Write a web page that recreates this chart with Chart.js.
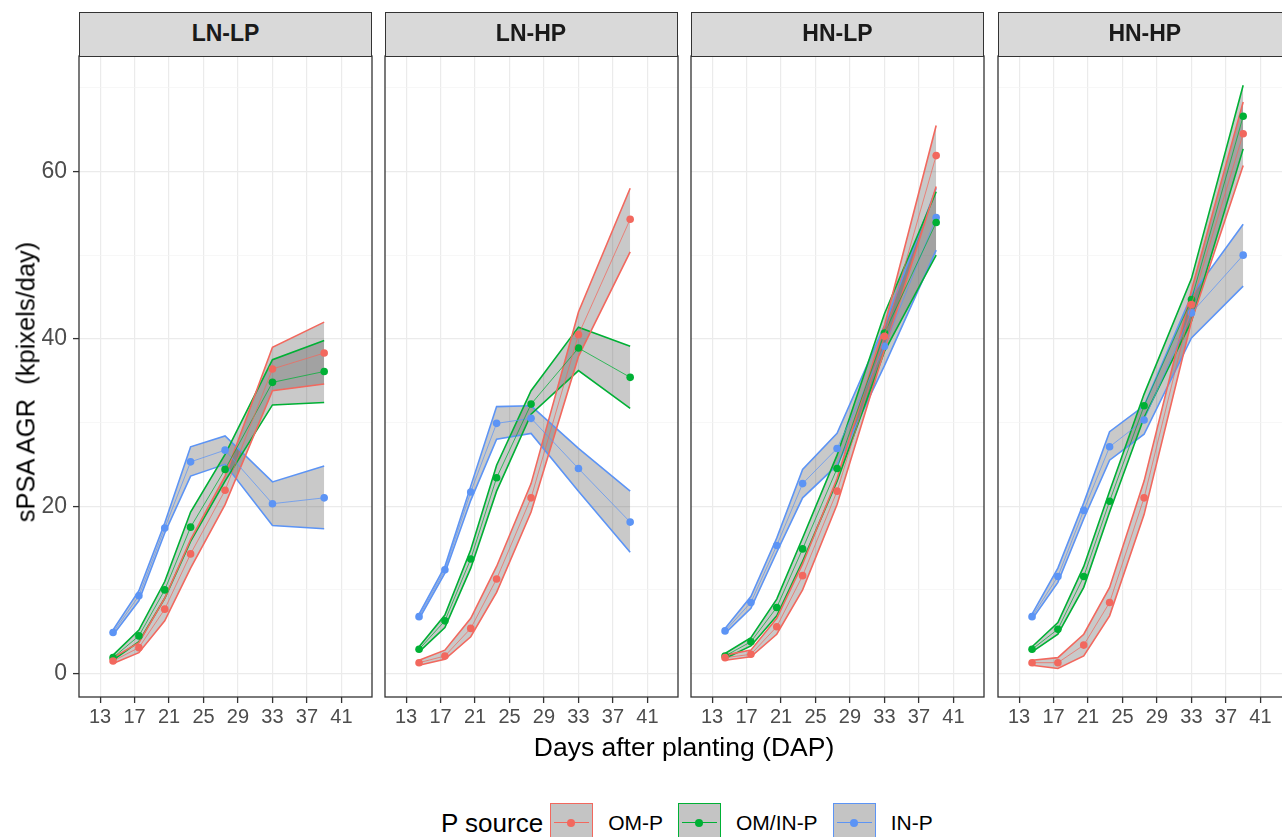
<!DOCTYPE html>
<html>
<head>
<meta charset="utf-8">
<script src="https://cdn.jsdelivr.net/npm/chart.js@4.4.0/dist/chart.umd.min.js"></script>
<style>
  body { margin: 0; background: #fff; font-family: "Liberation Sans", Arial, sans-serif; }
  #wrap { position: relative; width: 1282px; height: 837px; overflow: hidden; background: #fff; }
  canvas.panel { position: absolute; top: 36px; }
  .strip { position: absolute; top: 12px; height: 45px; width: 293px; box-sizing: border-box; border: 1.3px solid #333;
    background: #d9d9d9; font-weight: bold; font-size: 23px; color: #1a1a1a; text-align: center; line-height: 41px; }
  #ytitle { position: absolute; left: 26px; top: 382px; font-size: 25.5px; color: #000; white-space: pre;
    transform: translate(-50%, -50%) rotate(-90deg); }
  #xtitle { position: absolute; left: 684px; top: 747px; font-size: 26.5px; color: #000; transform: translate(-50%, -50%); white-space: nowrap; }
  #legend { position: absolute; left: 441px; top: 803px; height: 40px; display: flex; align-items: center; white-space: nowrap; }
  #legend .ttl { font-size: 26px; margin-right: 7px; }
  #legend .lab { font-size: 21px; margin: 0 15px 0 15px; }
  .key { position: relative; width: 43px; height: 40px; box-sizing: border-box; border: 1.6px solid; background: #c4c4c4; }
  .key i { position: absolute; left: 3px; right: 3px; top: 18px; height: 1.2px; }
  .key b { position: absolute; left: 16px; top: 15px; width: 8px; height: 8px; border-radius: 50%; }
</style>
</head>
<body>
<div id="wrap">
  <canvas class="panel" id="p0"></canvas>
  <canvas class="panel" id="p1"></canvas>
  <canvas class="panel" id="p2"></canvas>
  <canvas class="panel" id="p3"></canvas>
  <div id="ytitle">sPSA AGR  (kpixels/day)</div>
  <div id="xtitle">Days after planting (DAP)</div>
  <div id="legend"></div>
</div>
<script>
const panels = ['LN-LP', 'LN-HP', 'HN-LP', 'HN-HP']
const sources = ['OM-P', 'OM/IN-P', 'IN-P']
const days = [14.5, 17.5, 20.5, 23.5, 27.5, 33, 39]
const xTicks = [13, 17, 21, 25, 29, 33, 37, 41]
const yTicks = [0, 20, 40, 60]
const yMinor = [10, 30, 50, 70]

// LN-LP
const lnlpOM = [1.5, 3.1, 7.7, 14.3, 21.9, 36.4, 38.3]
const lnlpOMlo = [1.2, 2.5, 6.3, 12.6, 20.2, 33.8, 34.6]
const lnlpOMhi = [1.9, 3.7, 9.0, 16.0, 23.6, 39.0, 42.0]
const lnlpMix = [1.9, 4.5, 10.0, 17.5, 24.4, 34.8, 36.1]
const lnlpMixlo = [1.6, 3.8, 9.0, 15.8, 23.0, 32.1, 32.4]
const lnlpMixhi = [2.2, 5.2, 11.0, 19.3, 26.2, 37.5, 39.8]
const lnlpIN = [4.9, 9.3, 17.4, 25.3, 26.7, 20.3, 21.0]
const lnlpINlo = [4.6, 8.7, 16.8, 23.6, 25.0, 17.7, 17.3]
const lnlpINhi = [5.2, 9.9, 18.0, 27.1, 28.4, 22.9, 24.8]

// LN-HP
const lnhpOM = [1.3, 2.1, 5.4, 11.3, 21.0, 40.5, 54.3]
const lnhpOMlo = [1.0, 1.7, 4.4, 9.7, 19.3, 37.9, 50.4]
const lnhpOMhi = [1.6, 2.8, 6.6, 12.8, 22.7, 43.2, 58.0]
const lnhpMix = [2.9, 6.3, 13.7, 23.4, 32.2, 38.9, 35.4]
const lnhpMixlo = [2.6, 5.5, 12.6, 21.8, 31.0, 36.2, 31.7]
const lnhpMixhi = [3.2, 7.0, 14.8, 24.9, 33.8, 41.4, 39.1]
const lnhpIN = [6.8, 12.4, 21.7, 29.9, 30.5, 24.5, 18.1]
const lnhpINlo = [6.5, 12.0, 20.7, 28.0, 28.7, 21.8, 14.5]
const lnhpINhi = [7.1, 12.8, 22.4, 31.9, 32.0, 26.9, 21.8]

// HN-LP
const hnlpOM = [1.9, 2.3, 5.6, 11.7, 21.8, 40.3, 61.9]
const hnlpOMlo = [1.6, 2.0, 4.7, 10.0, 20.2, 38.7, 58.2]
const hnlpOMhi = [2.2, 2.8, 6.6, 13.1, 23.3, 41.6, 65.5]
const hnlpMix = [2.1, 3.8, 7.9, 14.9, 24.5, 40.7, 53.9]
const hnlpMixlo = [1.8, 3.3, 6.9, 13.4, 23.0, 38.5, 50.0]
const hnlpMixhi = [2.4, 4.3, 8.9, 16.2, 26.1, 43.0, 57.6]
const hnlpIN = [5.1, 8.5, 15.3, 22.7, 26.9, 39.1, 54.5]
const hnlpINlo = [4.8, 7.8, 14.5, 21.0, 24.9, 36.8, 50.6]
const hnlpINhi = [5.4, 9.2, 16.2, 24.4, 28.7, 41.6, 58.0]

// HN-HP
const hnhpOM = [1.3, 1.3, 3.4, 8.5, 21.0, 44.1, 64.5]
const hnhpOMlo = [1.0, 0.6, 2.1, 6.9, 19.0, 42.1, 60.7]
const hnhpOMhi = [1.6, 1.9, 4.7, 10.3, 23.0, 45.8, 68.3]
const hnhpMix = [2.9, 5.3, 11.6, 20.6, 32.0, 44.7, 66.6]
const hnhpMixlo = [2.6, 4.7, 10.3, 19.3, 30.6, 42.1, 62.7]
const hnhpMixhi = [3.2, 6.1, 12.8, 21.8, 33.4, 47.2, 70.3]
const hnhpIN = [6.8, 11.6, 19.5, 27.1, 30.3, 43.1, 50.0]
const hnhpINlo = [6.5, 10.9, 18.5, 25.5, 28.6, 40.1, 46.3]
const hnhpINhi = [7.1, 12.6, 20.4, 28.9, 32.0, 45.2, 53.7]

const colors = ['#F2685E', '#00B035', '#5C94F5']
const faded = ['rgba(242,104,94,0.75)', 'rgba(0,176,53,0.75)', 'rgba(92,148,245,0.75)']
const ribbon = 'rgba(60,60,60,0.28)'

const series = [
  [[lnlpOM, lnlpOMlo, lnlpOMhi], [lnlpMix, lnlpMixlo, lnlpMixhi], [lnlpIN, lnlpINlo, lnlpINhi]],
  [[lnhpOM, lnhpOMlo, lnhpOMhi], [lnhpMix, lnhpMixlo, lnhpMixhi], [lnhpIN, lnhpINlo, lnhpINhi]],
  [[hnlpOM, hnlpOMlo, hnlpOMhi], [hnlpMix, hnlpMixlo, hnlpMixhi], [hnlpIN, hnlpINlo, hnlpINhi]],
  [[hnhpOM, hnhpOMlo, hnhpOMhi], [hnhpMix, hnhpMixlo, hnhpMixhi], [hnhpIN, hnhpINlo, hnhpINhi]]
]

// panel left edges (plot area) and widths
const plotLeft = [79, 384.5, 691, 998.3]
const plotW = 293

const FONT = '"Liberation Sans", Arial, sans-serif'

function pts(arr) {
  return arr.map(function (v, i) { return { x: days[i], y: v } })
}

var frame = {
  id: 'frame',
  afterDraw: function (chart) {
    var a = chart.chartArea, c = chart.ctx
    c.save()
    c.strokeStyle = '#333'
    c.lineWidth = 1.3
    c.strokeRect(a.left, a.top, a.right - a.left, a.bottom - a.top)
    c.restore()
  }
}

function makePanel(idx) {
  var yw = idx === 0 ? 79 : 8
  var cv = document.getElementById('p' + idx)
  cv.width = yw + plotW + 4
  cv.height = 701
  cv.style.left = (plotLeft[idx] - yw) + 'px'

  var datasets = []
  series[idx].forEach(function (s, k) {
    datasets.push({ data: pts(s[1]), borderColor: colors[k], borderWidth: 1.6, pointRadius: 0, fill: false, order: 1 })
    datasets.push({ data: pts(s[2]), borderColor: colors[k], borderWidth: 1.6, pointRadius: 0, fill: '-1', backgroundColor: ribbon, order: 1 })
  })
  series[idx].forEach(function (s, k) {
    datasets.push({ data: pts(s[0]), borderColor: faded[k], borderWidth: 1, pointRadius: 3.8,
      pointBackgroundColor: colors[k], pointBorderWidth: 0, fill: false, order: 0 })
  })

  new Chart(cv, {
    type: 'line',
    data: { datasets: datasets },
    options: {
      responsive: false,
      animation: false,
      events: [],
      layout: { padding: { top: 20, right: 4, left: 0, bottom: 0 } },
      plugins: { legend: { display: false }, tooltip: { enabled: false }, filler: { drawTime: 'beforeDatasetsDraw' } },
      elements: { line: { tension: 0 } },
      scales: {
        x: {
          type: 'linear', min: 10.55, max: 44.55,
          afterBuildTicks: function (s) { s.ticks = xTicks.map(function (v) { return { value: v } }) },
          afterFit: function (s) { s.height = 40 },
          ticks: { font: { size: 20, family: FONT }, color: '#4d4d4d', padding: 2, maxRotation: 0, autoSkip: false },
          grid: { color: '#ebebeb', lineWidth: 1.2, tickColor: '#333', tickLength: 6, tickWidth: 1.3 },
          border: { display: false }
        },
        y: {
          min: -2.8, max: 73.8,
          afterBuildTicks: function (s) {
            s.ticks = yTicks.concat(yMinor).sort(function (a, b) { return a - b }).map(function (v) { return { value: v } })
          },
          afterFit: function (s) { s.width = yw },
          ticks: {
            display: idx === 0, font: { size: 23, family: FONT }, color: '#4d4d4d', padding: 6,
            callback: function (v) { return yTicks.indexOf(v) >= 0 ? String(v) : '' }
          },
          grid: {
            drawTicks: idx === 0, tickLength: 6, tickWidth: 1.3,
            color: function (c) { return yTicks.indexOf(c.tick.value) >= 0 ? '#ebebeb' : '#f3f3f3' },
            lineWidth: function (c) { return yTicks.indexOf(c.tick.value) >= 0 ? 1.2 : 0.7 },
            tickColor: function (c) { return yTicks.indexOf(c.tick.value) >= 0 ? '#333' : 'rgba(0,0,0,0)' }
          },
          border: { display: false }
        }
      }
    },
    plugins: [frame]
  })

  var st = document.createElement('div')
  st.className = 'strip'
  st.style.left = plotLeft[idx] + 'px'
  st.textContent = panels[idx]
  document.getElementById('wrap').appendChild(st)
}

panels.forEach(function (p, i) { makePanel(i) })

// legend
var lg = document.getElementById('legend')
var t = document.createElement('span')
t.className = 'ttl'
t.textContent = 'P source'
lg.appendChild(t)
sources.forEach(function (name, k) {
  var key = document.createElement('div')
  key.className = 'key'
  key.style.borderColor = colors[k]
  key.innerHTML = '<i style="background:' + colors[k] + '"></i><b style="background:' + colors[k] + '"></b>'
  lg.appendChild(key)
  var lab = document.createElement('span')
  lab.className = 'lab'
  lab.textContent = name
  lg.appendChild(lab)
})
</script>
</body>
</html>
